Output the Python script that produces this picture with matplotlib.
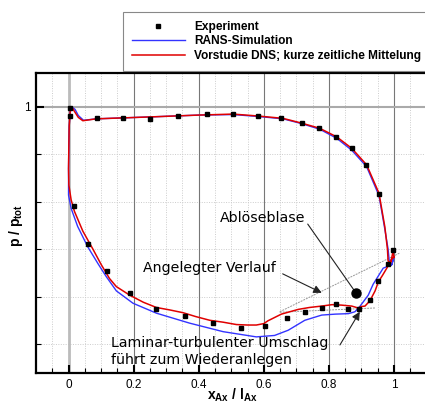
import matplotlib
matplotlib.use("Agg")
import matplotlib.pyplot as plt
from matplotlib.lines import Line2D
import numpy as np

# ---------------------------------------------------------------------------
# Data
# ---------------------------------------------------------------------------

# DNS, pressure side (leading edge -> trailing edge)
dns_ps_x = [0.010, 0.016, 0.030, 0.044, 0.085, 0.167, 0.249, 0.403, 0.506, 0.582,
            0.659, 0.716, 0.772, 0.824, 0.870, 0.916, 0.954, 0.972, 0.980, 0.982,
            0.990, 0.997, 1.000]
dns_ps_p = [1.000, 0.993, 0.978, 0.971, 0.975, 0.977, 0.979, 0.983, 0.985, 0.981,
            0.976, 0.966, 0.955, 0.937, 0.913, 0.878, 0.818, 0.747, 0.700, 0.675,
            0.671, 0.695, 0.683]

# DNS, suction side (leading edge -> trailing edge)
dns_ss_x = [0.010, 0.005, 0.002, 0.001, 0.000, 0.001, 0.008, 0.018, 0.044, 0.075,
            0.100, 0.126, 0.147, 0.188, 0.230, 0.270, 0.310, 0.352, 0.390, 0.434,
            0.475, 0.516, 0.550, 0.577, 0.600, 0.613, 0.654, 0.706, 0.740, 0.778,
            0.810, 0.839, 0.870, 0.890, 0.900, 0.911, 0.926, 0.942, 0.952, 0.965,
            0.978, 0.993, 1.000]
dns_ss_p = [1.000, 0.990, 0.960, 0.920, 0.870, 0.835, 0.804, 0.780, 0.738, 0.700,
            0.668, 0.638, 0.621, 0.603, 0.588, 0.577, 0.572, 0.566, 0.558, 0.550,
            0.546, 0.541, 0.540, 0.540, 0.543, 0.549, 0.563, 0.573, 0.577, 0.580,
            0.583, 0.582, 0.580, 0.576, 0.579, 0.580, 0.591, 0.612, 0.631, 0.645,
            0.660, 0.679, 0.683]

# RANS, pressure side
rans_ps_x = [0.010, 0.020, 0.030, 0.046, 0.085, 0.167, 0.249, 0.403, 0.506, 0.582,
             0.659, 0.716, 0.772, 0.824, 0.870, 0.916, 0.954, 0.972, 0.982, 0.986,
             0.993, 1.000]
rans_ps_p = [1.000, 0.995, 0.982, 0.972, 0.975, 0.977, 0.979, 0.983, 0.984, 0.980,
             0.975, 0.965, 0.953, 0.934, 0.909, 0.874, 0.813, 0.742, 0.700, 0.672,
             0.667, 0.683]

# RANS, suction side
rans_ss_x = [0.010, 0.005, 0.002, 0.001, 0.000, 0.000, 0.000, 0.008, 0.028, 0.059,
             0.090, 0.116, 0.147, 0.198, 0.270, 0.372, 0.475, 0.577, 0.633, 0.675,
             0.726, 0.778, 0.820, 0.860, 0.880, 0.895, 0.921, 0.936, 0.967, 0.993,
             1.000]
rans_ss_p = [1.000, 0.990, 0.960, 0.920, 0.870, 0.835, 0.814, 0.786, 0.748, 0.705,
             0.670, 0.642, 0.612, 0.586, 0.565, 0.544, 0.526, 0.515, 0.518, 0.529,
             0.550, 0.561, 0.563, 0.564, 0.568, 0.579, 0.603, 0.626, 0.660, 0.667,
             0.683]

# Experiment
exp_x = [0.006, 0.006, 0.088, 0.167, 0.249, 0.336, 0.424, 0.506, 0.582, 0.652,
         0.716, 0.770, 0.822, 0.870, 0.914, 0.954, 0.998,
         0.016, 0.059, 0.118, 0.188, 0.270, 0.357, 0.444, 0.531, 0.604, 0.670,
         0.726, 0.778, 0.821, 0.858, 0.892, 0.926, 0.952, 0.981]
exp_p = [0.997, 0.981, 0.976, 0.976, 0.975, 0.981, 0.985, 0.986, 0.981, 0.976,
         0.967, 0.956, 0.937, 0.913, 0.878, 0.817, 0.698,
         0.791, 0.711, 0.653, 0.607, 0.574, 0.558, 0.544, 0.533, 0.537, 0.554,
         0.568, 0.575, 0.584, 0.574, 0.573, 0.593, 0.633, 0.668]

# helper lines / annotations
tangent_attached_x = [0.649, 1.018]
tangent_attached_p = [0.568, 0.692]
tangent_bubble_x = [0.649, 0.942]
tangent_bubble_p = [0.567, 0.576]
bubble_dot = (0.883, 0.608)

# ---------------------------------------------------------------------------
# Plot
# ---------------------------------------------------------------------------

plt.rcParams["mathtext.fontset"] = "custom"
plt.rcParams["mathtext.rm"] = "Liberation Sans"
plt.rcParams["mathtext.bf"] = "Liberation Sans:bold"

fig = plt.figure(figsize=(4.25, 4.04), dpi=100)
ax = fig.add_axes([36 / 425, 1 - 373 / 404, 390.5 / 425, 300 / 404])

ax.set_xlim(-0.1, 1.1)
ax.set_ylim(0.4388, 1.0717)

# grid
for xv in np.arange(-0.05, 1.1, 0.05):
    if abs(round(xv / 0.2) * 0.2 - xv) > 1e-6:
        ax.axvline(xv, color="#cccccc", lw=0.7, ls=(0, (1, 1.5)), zorder=0)
for yv in [0.5, 0.6, 0.7, 0.8, 0.9]:
    ax.axhline(yv, color="#cccccc", lw=0.7, ls=(0, (1, 1.5)), zorder=0)
for xv in [0.2, 0.4, 0.6, 0.8, 1.0]:
    ax.axvline(xv, color="#777777", lw=0.8, zorder=0)
ax.axvline(0.0, color="#bbbbbb", lw=2.0, zorder=0)
ax.axhline(1.0, color="#aaaaaa", lw=1.5, zorder=0)

# curves
rans_x = rans_ps_x[::-1] + rans_ss_x[1:]
rans_p = rans_ps_p[::-1] + rans_ss_p[1:]
dns_x = dns_ps_x[::-1] + dns_ss_x[1:]
dns_p = dns_ps_p[::-1] + dns_ss_p[1:]
ax.plot(rans_x, rans_p, color="#3333ff", lw=1.0, zorder=3)
ax.plot(dns_x, dns_p, color="#e00000", lw=1.1, zorder=4)
ax.plot(exp_x, exp_p, ls="none", marker="s", ms=3, color="black", zorder=5)

# tangent helper lines
ax.plot(tangent_attached_x, tangent_attached_p, color="#999999", lw=0.7,
        ls=(0, (2, 1)), zorder=2)
ax.plot(tangent_bubble_x, tangent_bubble_p, color="#999999", lw=0.7,
        ls=(0, (2, 1)), zorder=2)

# annotations
afont = dict(family="DejaVu Sans", size=10.2)
ax.text(0.727, 0.766, "Ablöseblase", ha="right", va="center", **afont)
ax.annotate("", xy=bubble_dot, xytext=(0.735, 0.753),
            arrowprops=dict(arrowstyle="-", color="#222222", lw=0.8,
                            shrinkA=0, shrinkB=0))
ax.plot(*bubble_dot, marker="o", ms=6.5, color="black", zorder=6)

ax.text(0.637, 0.660, "Angelegter Verlauf", ha="right", va="center", **afont)
ax.annotate("", xy=(0.778, 0.608), xytext=(0.658, 0.648),
            arrowprops=dict(arrowstyle="-|>", color="#222222", lw=0.8,
                            mutation_scale=12, shrinkA=0, shrinkB=0))

ax.text(0.132, 0.484, "Laminar-turbulenter Umschlag\nführt zum Wiederanlegen",
        ha="left", va="center", linespacing=1.34, **afont)
ax.annotate("", xy=(0.895, 0.568), xytext=(0.834, 0.498),
            arrowprops=dict(arrowstyle="-|>", color="#222222", lw=0.8,
                            mutation_scale=12, shrinkA=0, shrinkB=0))

# axes styling
for side in ["left", "bottom", "top"]:
    ax.spines[side].set_linewidth(1.6)
ax.spines["right"].set_visible(False)

ax.set_xticks([0, 0.2, 0.4, 0.6, 0.8, 1.0])
ax.set_xticklabels(["0", "0.2", "0.4", "0.6", "0.8", "1"])
ax.set_xticks(np.arange(-0.05, 1.1, 0.05), minor=True)
ax.set_yticks([1.0])
ax.set_yticklabels(["1"])
ax.set_yticks([0.5, 0.6, 0.7, 0.8, 0.9], minor=True)
ax.tick_params(which="major", direction="in", length=6, width=1.5,
               labelsize=8.5, pad=4)
ax.tick_params(which="minor", direction="in", length=3.5, width=0.8)
for lab in ax.get_xticklabels() + ax.get_yticklabels():
    lab.set_family("Liberation Sans")

# axis titles placed in figure pixels
fig.text(232 / 425, 1 - 395 / 404, r"$\mathbf{x_{Ax}}$ / $\mathbf{l_{Ax}}$",
         fontsize=10, fontweight="bold", family="Liberation Sans",
         ha="center", va="center")
fig.text(16 / 425, 1 - 225 / 404, r"$\mathbf{p}$ / $\mathbf{p_{tot}}$",
         fontsize=10, fontweight="bold", family="Liberation Sans",
         ha="center", va="center", rotation=90)

# legend
handles = [
    Line2D([], [], ls="none", marker="s", ms=3, color="black"),
    Line2D([], [], color="#3333ff", lw=1.0),
    Line2D([], [], color="#e00000", lw=1.1),
]
labels = ["Experiment", "RANS-Simulation", "Vorstudie DNS; kurze zeitliche Mittelung"]
leg = fig.legend(handles, labels, loc="upper left",
                 bbox_to_anchor=(123 / 425, 1 - 12 / 404),
                 prop=dict(family="Liberation Sans", weight="bold", size=8.6),
                 fancybox=False, edgecolor="#888888", framealpha=1,
                 handlelength=4.4, handletextpad=0.8, labelspacing=0.2,
                 borderpad=0.75, borderaxespad=0)
leg.get_frame().set_linewidth(0.8)

fig.savefig("out.png", dpi=100)
